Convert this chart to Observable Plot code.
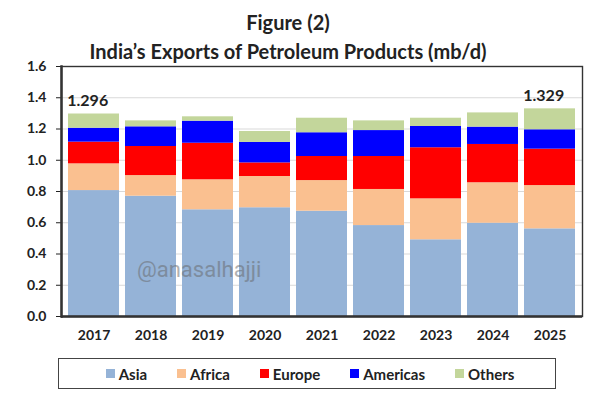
<!DOCTYPE html>
<html>
<head>
<meta charset="utf-8">
<script src="https://cdn.jsdelivr.net/npm/d3@7"></script>
<script src="https://cdn.jsdelivr.net/npm/@observablehq/plot@0.6"></script>
<style>
  html, body { margin: 0; padding: 0; background: #fff; }
  #wrap { position: relative; width: 593px; height: 394px; overflow: hidden; font-family: Lato, "Open Sans", sans-serif; color: #222; }
  #title { position: absolute; left: 0; top: 8px; width: 576px; text-align: center; font-weight: bold; font-size: 20px; line-height: 29px; color: #222; }
  #chart { position: absolute; left: 0; top: 56px; }
  #mark { position: absolute; left: 137px; top: 257px; font-size: 22px; color: #666; opacity: 0.5; font-family: Roboto, sans-serif; }
  #legend { position: absolute; left: 58px; top: 358px; width: 490px; height: 29px; border: 1.5px solid #444; display: flex; align-items: center; justify-content: center; gap: 30px; font-weight: bold; font-size: 15px; padding-left: 6px; box-sizing: content-box; }
  .item { display: flex; align-items: center; gap: 4px; }
  .sw { width: 9px; height: 9px; display: inline-block; }
</style>
</head>
<body>
<div id="wrap">
  <div id="title">Figure (2)<br>India’s Exports of Petroleum Products (mb/d)</div>
  <div id="chart"></div>
  <div id="mark">@anasalhajji</div>
  <div id="legend"></div>
</div>
<script>
const years = ["2017","2018","2019","2020","2021","2022","2023","2024","2025"];
const regions = ["Asia","Africa","Europe","Americas","Others"];
const asia     = [0.806, 0.770, 0.683, 0.696, 0.674, 0.582, 0.491, 0.597, 0.561];
const africa   = [0.171, 0.132, 0.192, 0.200, 0.196, 0.231, 0.262, 0.259, 0.277];
const europe   = [0.139, 0.186, 0.234, 0.087, 0.154, 0.211, 0.327, 0.245, 0.233];
const americas = [0.089, 0.126, 0.141, 0.131, 0.152, 0.166, 0.136, 0.111, 0.124];
const others   = [0.091, 0.038, 0.028, 0.070, 0.093, 0.062, 0.053, 0.091, 0.134];
const colors = ["#95B3D7","#FAC090","#FF0000","#0000FF","#C3D69B"];
const yTicks = [0, 0.2, 0.4, 0.6, 0.8, 1.0, 1.2, 1.4, 1.6];
const labelYears = ["2017","2025"];
const labelTotals = [1.296, 1.329];

const series = [asia, africa, europe, americas, others];
const rows = years.flatMap((yr, i) => regions.map((r, j) => ({year: yr, region: r, value: series[j][i]})));
const labels = labelYears.map((yr, i) => ({year: yr, total: labelTotals[i], text: d3.format(".3f")(labelTotals[i])}));

const W = 593, ML = 61, MR = 11;
const n = years.length, pad = 0.1;
const step = (W - ML - MR) / (n - pad + 2 * pad);
const bw = step * (1 - pad);

const chart = Plot.plot({
  width: W,
  height: 300,
  marginLeft: ML,
  marginRight: MR,
  marginTop: 10,
  marginBottom: 40,
  style: {fontFamily: "Lato, sans-serif", fontWeight: "bold", fontSize: "14px", color: "#222", background: "transparent"},
  x: {domain: years, padding: pad, tickSize: 0, tickPadding: 14, label: null},
  y: {domain: [0, 1.6], ticks: yTicks, tickFormat: d3.format(".1f"), tickSize: 5, tickPadding: 10, label: null},
  color: {domain: regions, range: colors},
  marks: [
    Plot.ruleY(yTicks, {stroke: "#d9d9d9", strokeWidth: 1}),
    Plot.barY(rows, {x: "year", y: "value", fill: "region"}),
    Plot.text(labels, {x: "year", y: "total", text: "text", textAnchor: "start", lineAnchor: "bottom", dx: -bw / 2 - 1, dy: -8, fontSize: 16, fontWeight: "bold", fill: "#222"}),
    Plot.frame({stroke: "#333", strokeWidth: 1.4}),
    Plot.ruleY([0], {stroke: "#333", strokeWidth: 2.5}),
    Plot.frame({anchor: "left", stroke: "#333", strokeWidth: 2.5})
  ]
});
document.getElementById("chart").appendChild(chart);

const legend = document.getElementById("legend");
regions.forEach((r, i) => {
  const it = document.createElement("div");
  it.className = "item";
  const sw = document.createElement("span");
  sw.className = "sw";
  sw.style.background = colors[i];
  const t = document.createElement("span");
  t.textContent = r;
  it.appendChild(sw); it.appendChild(t);
  legend.appendChild(it);
});
</script>
</body>
</html>
